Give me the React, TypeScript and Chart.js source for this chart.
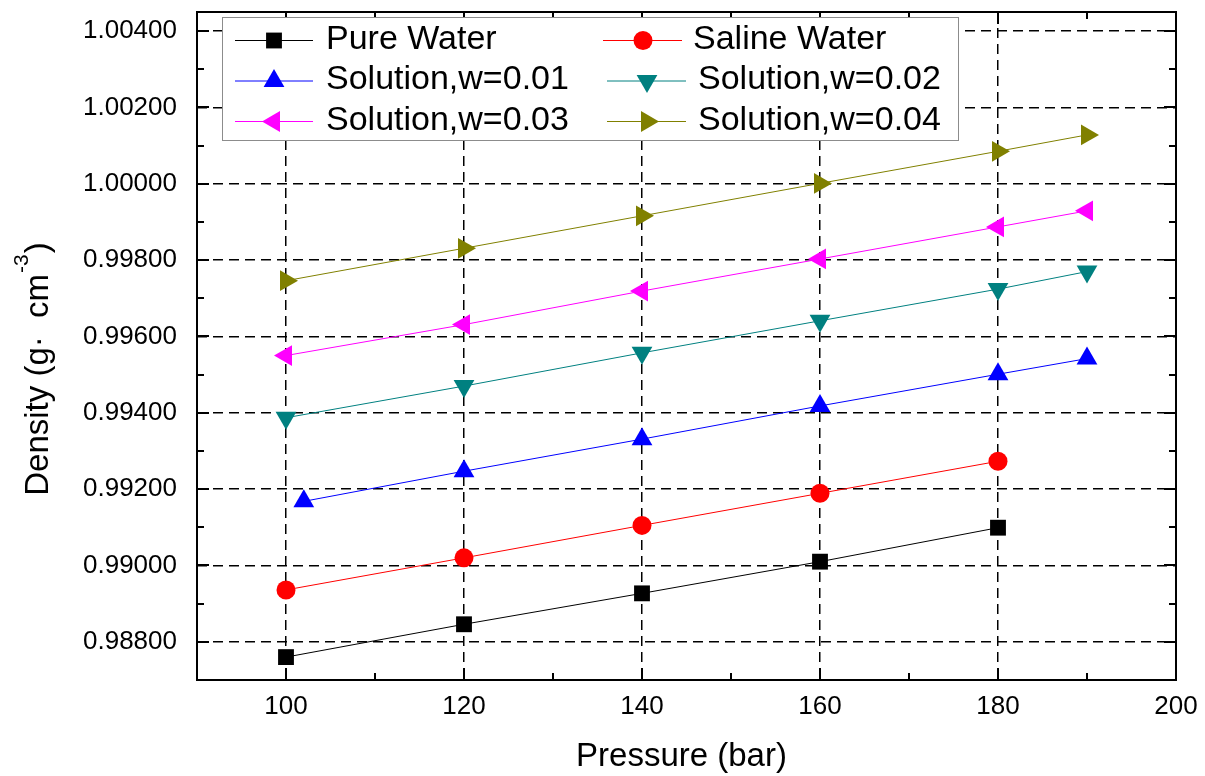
import React, { useEffect, useRef } from 'react';
import { Chart, registerables } from 'chart.js';
import { drawPoint } from 'chart.js/helpers';

Chart.register(...registerables);

// ---------- data ----------
const pressurePure = [100, 120, 140, 160, 180];
const pressureSaline = [100, 120, 140, 160, 180];
const pressureW001 = [102, 120, 140, 160, 180, 190];
const pressureW002 = [100, 120, 140, 160, 180, 190];
const pressureW003 = [100, 120, 140, 160, 180, 190];
const pressureW004 = [100, 120, 140, 160, 180, 190];

const densityPure = [0.9876, 0.98846, 0.98927, 0.9901, 0.99099];
const densitySaline = [0.98936, 0.9902, 0.99105, 0.99189, 0.99273];
const densityW001 = [0.99168, 0.99247, 0.99331, 0.99418, 0.99501, 0.99542];
const densityW002 = [0.99387, 0.9947, 0.99557, 0.99641, 0.99724, 0.9977];
const densityW003 = [0.9955, 0.99631, 0.99719, 0.99803, 0.99887, 0.99929];
const densityW004 = [0.99746, 0.99831, 0.99916, 1.00001, 1.00085, 1.00128];

const seriesLabels = [
  'Pure Water',
  'Saline Water',
  'Solution,w=0.01',
  'Solution,w=0.02',
  'Solution,w=0.03',
  'Solution,w=0.04',
];

const xMajorTicks = [100, 120, 140, 160, 180, 200];
const xMinorTicks = [90, 110, 130, 150, 170, 190];
const yMajorTicks = [0.988, 0.99, 0.992, 0.994, 0.996, 0.998, 1.0, 1.002, 1.004];
const yMinorTicks = [0.987, 0.989, 0.991, 0.993, 0.995, 0.997, 0.999, 1.001, 1.003];

const X_MIN = 90;
const X_MAX = 200;
const Y_MIN = 0.987;
const Y_MAX = 1.0045;

const xTitle = 'Pressure (bar)';
const yTitleMain = 'Density (g\u00B7  cm';
const yTitleSup = '-3';
const yTitleEnd = ')';

const FONT = "'Liberation Sans', Arial, Helvetica, sans-serif";

function makeSeries(xs: number[], ys: number[]) {
  return xs.map((x, i) => ({ x, y: ys[i] }));
}

const styles = [
  { color: '#000000', pointStyle: 'rect', rotation: 0, radius: 11.2 },
  { color: '#ff0000', pointStyle: 'circle', rotation: 0, radius: 9.5 },
  { color: '#0000ff', pointStyle: 'triangle', rotation: 0, radius: 12 },
  { color: '#008080', pointStyle: 'triangle', rotation: 180, radius: 12 },
  { color: '#ff00ff', pointStyle: 'triangle', rotation: -90, radius: 12 },
  { color: '#808000', pointStyle: 'triangle', rotation: 90, radius: 12 },
];

const framePlugin = {
  id: 'frameTicks',
  afterDatasetsDraw(chart: any) {
    const ctx = chart.ctx;
    const { left, right, top, bottom } = chart.chartArea;
    const xs = chart.scales.x;
    const ys = chart.scales.y;
    ctx.save();
    ctx.strokeStyle = '#000';
    ctx.lineWidth = 2;
    ctx.setLineDash([]);
    ctx.strokeRect(left, top, right - left, bottom - top);
    const major = 12;
    const minor = 7;
    ctx.beginPath();
    xMajorTicks.forEach((v) => {
      const p = Math.round(xs.getPixelForValue(v));
      ctx.moveTo(p, bottom); ctx.lineTo(p, bottom - major);
      ctx.moveTo(p, top); ctx.lineTo(p, top + major);
    });
    xMinorTicks.forEach((v) => {
      const p = Math.round(xs.getPixelForValue(v));
      ctx.moveTo(p, bottom); ctx.lineTo(p, bottom - minor);
      ctx.moveTo(p, top); ctx.lineTo(p, top + minor);
    });
    yMajorTicks.forEach((v) => {
      const p = Math.round(ys.getPixelForValue(v));
      ctx.moveTo(left, p); ctx.lineTo(left + major, p);
      ctx.moveTo(right, p); ctx.lineTo(right - major, p);
    });
    yMinorTicks.forEach((v) => {
      const p = Math.round(ys.getPixelForValue(v));
      ctx.moveTo(left, p); ctx.lineTo(left + minor, p);
      ctx.moveTo(right, p); ctx.lineTo(right - minor, p);
    });
    ctx.stroke();
    ctx.restore();
  },
};

const legendPlugin = {
  id: 'originLegend',
  afterDraw(chart: any) {
    const ctx = chart.ctx;
    ctx.save();
    // box
    const bx = 222, by = 17, bw = 736, bh = 123;
    ctx.fillStyle = '#ffffff';
    ctx.fillRect(bx, by, bw, bh);
    ctx.strokeStyle = '#8c8c8c';
    ctx.lineWidth = 1;
    ctx.strokeRect(bx + 0.5, by + 0.5, bw, bh);

    const rows = [40.5, 81, 121.5];
    const cols = [
      { l0: 235, l1: 313, m: 274, t: 326 },
      { l0: 607, l1: 686, m: 647, t: 698 },
    ];
    const col2Row1 = { l0: 603, l1: 682, m: 643, t: 693 };
    ctx.font = `34px ${FONT}`;
    ctx.textBaseline = 'middle';
    ctx.textAlign = 'left';
    chart.data.datasets.forEach((ds: any, i: number) => {
      const row = Math.floor(i / 2);
      const colIdx = i % 2;
      const c = colIdx === 1 && row === 0 ? col2Row1 : cols[colIdx];
      const y = rows[row];
      ctx.strokeStyle = ds.borderColor;
      ctx.lineWidth = 1;
      ctx.beginPath();
      ctx.moveTo(c.l0, y);
      ctx.lineTo(c.l1, y);
      ctx.stroke();
      ctx.fillStyle = ds.pointBackgroundColor;
      ctx.strokeStyle = ds.pointBorderColor;
      drawPoint(ctx, {
        pointStyle: ds.pointStyle,
        rotation: ds.pointRotation,
        radius: ds.pointRadius,
        borderWidth: 0,
      } as any, c.m, y);
      ctx.fillStyle = '#000';
      ctx.fillText(ds.label, c.t, y - 1);
    });

    // x axis title
    ctx.font = `33px ${FONT}`;
    ctx.fillStyle = '#000';
    ctx.textAlign = 'center';
    ctx.textBaseline = 'middle';
    ctx.fillText(xTitle, 681.5, 757);

    // y axis title with superscript
    ctx.translate(38.5, 369);
    ctx.rotate(-Math.PI / 2);
    ctx.textAlign = 'left';
    ctx.font = `33px ${FONT}`;
    const w1 = ctx.measureText(yTitleMain).width;
    ctx.font = `21px ${FONT}`;
    const w2 = ctx.measureText(yTitleSup).width;
    ctx.font = `33px ${FONT}`;
    const w3 = ctx.measureText(yTitleEnd).width;
    const total = w1 + w2 + w3 + 2;
    let x = -total / 2;
    ctx.fillText(yTitleMain, x, 0);
    x += w1 + 1;
    ctx.font = `21px ${FONT}`;
    ctx.fillText(yTitleSup, x, -16);
    x += w2 + 1;
    ctx.font = `33px ${FONT}`;
    ctx.fillText(yTitleEnd, x, 0);
    ctx.restore();
  },
};

export default function App() {
  const canvasRef = useRef<HTMLCanvasElement | null>(null);

  useEffect(() => {
    const canvas = canvasRef.current;
    if (!canvas) return;
    const seriesData = [
      makeSeries(pressurePure, densityPure),
      makeSeries(pressureSaline, densitySaline),
      makeSeries(pressureW001, densityW001),
      makeSeries(pressureW002, densityW002),
      makeSeries(pressureW003, densityW003),
      makeSeries(pressureW004, densityW004),
    ];
    const datasets = seriesData.map((d, i) => ({
      label: seriesLabels[i],
      data: d,
      borderColor: styles[i].color,
      backgroundColor: styles[i].color,
      borderWidth: 1,
      pointStyle: styles[i].pointStyle,
      pointRotation: styles[i].rotation,
      pointRadius: styles[i].radius,
      pointBackgroundColor: styles[i].color,
      pointBorderColor: styles[i].color,
      pointBorderWidth: 0,
      tension: 0,
      fill: false,
      showLine: true,
    }));

    const chart = new Chart(canvas, {
      type: 'line',
      data: { datasets } as any,
      options: {
        animation: false,
        responsive: false,
        devicePixelRatio: 1,
        events: [],
        layout: { padding: { left: 0, right: 29, top: 10, bottom: 0 } },
        plugins: {
          legend: { display: false },
          title: { display: false },
          tooltip: { enabled: false },
        },
        scales: {
          x: {
            type: 'linear',
            min: X_MIN,
            max: X_MAX,
            afterBuildTicks: (scale: any) => {
              scale.ticks = xMajorTicks.map((v) => ({ value: v }));
            },
            afterFit: (scale: any) => {
              scale.height = 96;
              scale.paddingLeft = 0;
              scale.paddingRight = 0;
              scale.paddingTop = 0;
              scale.paddingBottom = 0;
            },
            ticks: {
              autoSkip: false,
              maxRotation: 0,
              padding: 11,
              color: '#000',
              font: { family: FONT, size: 26 },
              callback: (v: any) => String(v),
            },
            grid: {
              color: '#000',
              lineWidth: 1.5,
              drawTicks: false,
            },
            border: { display: false, dash: [10, 6] },
          },
          y: {
            type: 'linear',
            min: Y_MIN,
            max: Y_MAX,
            afterBuildTicks: (scale: any) => {
              scale.ticks = yMajorTicks.map((v) => ({ value: v }));
            },
            afterFit: (scale: any) => {
              scale.width = 197;
              scale.paddingLeft = 0;
              scale.paddingRight = 0;
              scale.paddingTop = 0;
              scale.paddingBottom = 0;
            },
            ticks: {
              autoSkip: false,
              padding: 20,
              color: '#000',
              font: { family: FONT, size: 26 },
              callback: (v: any) => Number(v).toFixed(5),
            },
            grid: {
              color: '#000',
              lineWidth: 1.5,
              drawTicks: false,
            },
            border: { display: false, dash: [10, 6] },
          },
        },
      } as any,
      plugins: [framePlugin, legendPlugin],
    });
    return () => chart.destroy();
  }, []);

  return (
    <div style={{ position: 'absolute', left: 0, top: 0, width: 1205, height: 776, background: '#fff' }}>
      <canvas ref={canvasRef} width={1205} height={776} style={{ display: 'block', width: 1205, height: 776 }} />
    </div>
  );
}
